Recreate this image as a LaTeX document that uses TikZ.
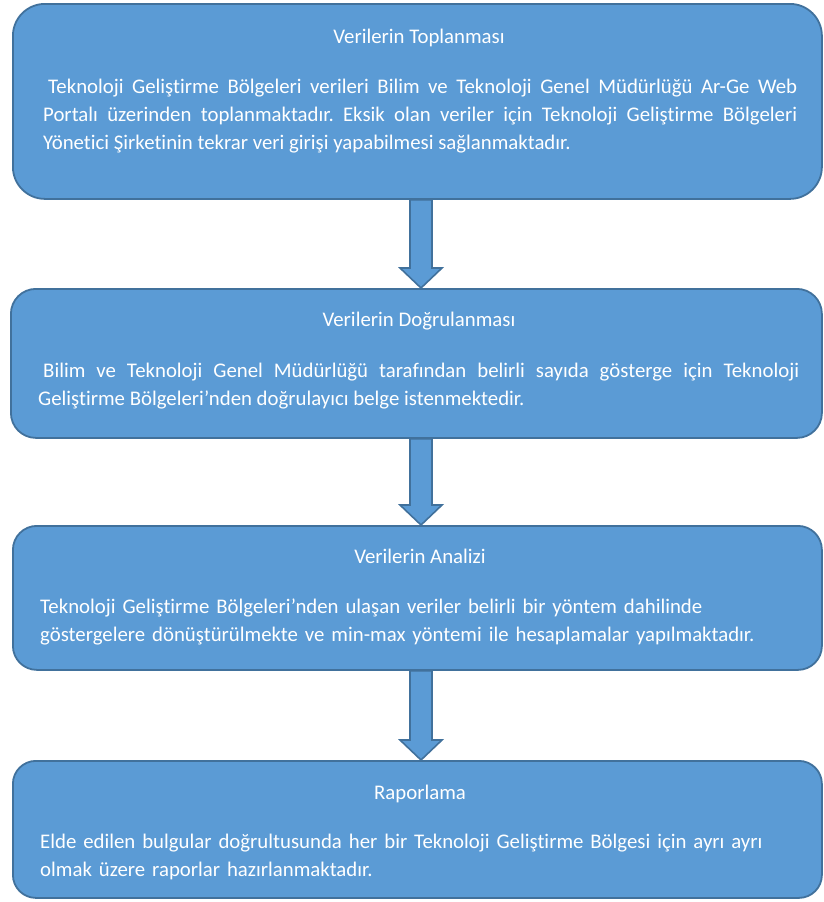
\documentclass[tikz,border=0pt]{standalone}
\usepackage{fontspec}
\setmainfont{Carlito}[Ligatures=NoCommon]
\usetikzlibrary{calc}
\definecolor{boxfill}{HTML}{5B9BD5}
\definecolor{boxline}{HTML}{41719C}
\frenchspacing
\newcommand\flowarrow[2]{%
  \draw[blockarrow] let \p1=(#1.south), \p2=(#2.north) in
    (410pt,\y1) -- (432pt,\y1) -- (432pt,\y2+20pt) -- (442pt,\y2+20pt) --
    (421pt,\y2) -- (400pt,\y2+20pt) -- (410pt,\y2+20pt) -- cycle;}
\begin{document}
\begin{tikzpicture}[x=1pt,y=-1pt,
  stage/.style={draw=boxline, fill=boxfill, line width=1.8pt, inner sep=0pt,
    anchor=north west, minimum width=809pt},
  stitle/.style={text=white, font=\fontsize{20.8}{28}\selectfont\frenchspacing, anchor=base, inner sep=0pt},
  sbody/.style={text=white, font=\fontsize{20.8}{28}\selectfont\frenchspacing, anchor=base west, inner sep=0pt},
  blockarrow/.style={draw=boxline, fill=boxfill, line width=1.6pt, line join=miter}]
\useasboundingbox (0,0) rectangle (823,902);
% boxes
\node[stage, rounded corners=32pt, minimum height=195pt] (b1) at (12,3) {};
\node[stage, rounded corners=25pt, minimum height=149pt, minimum width=811pt] (b2) at (10,288) {};
\node[stage, rounded corners=24pt, minimum height=144pt] (b3) at (12,525) {};
\node[stage, rounded corners=23pt, minimum height=137pt] (b4) at (12,760) {};
% arrows
\flowarrow{b1}{b2}
\flowarrow{b2}{b3}
\flowarrow{b3}{b4}
% texts
\node[stitle] (t1) at (419,43) {Verilerin Toplanması};
\node[sbody, text width=754pt, align=justify] (p1) at (43,93)
  {\hspace*{5pt}Teknoloji Geliştirme Bölgeleri verileri Bilim ve Teknoloji Genel Müdürlüğü Ar-Ge Web\linebreak
   Portalı üzerinden toplanmaktadır. Eksik olan veriler için Teknoloji Geliştirme Bölgeleri\linebreak
   Yönetici Şirketinin tekrar veri girişi yapabilmesi sağlanmaktadır.};
\node[stitle] (t2) at (419,326) {Verilerin Doğrulanması};
\node[sbody, text width=761pt, align=justify] (p2) at (38,377)
  {\hspace*{5pt}Bilim ve Teknoloji Genel Müdürlüğü tarafından belirli sayıda gösterge için Teknoloji\linebreak
   Geliştirme Bölgeleri’nden doğrulayıcı belge istenmektedir.};
\node[stitle] (t3) at (420,563) {Verilerin Analizi};
\node[sbody, text width=775pt, align=left] (p3) at (40,613)
  {Teknoloji Geliştirme Bölgeleri’nden ulaşan veriler belirli bir yöntem dahilinde\\
   göstergelere dönüştürülmekte ve min-max yöntemi ile hesaplamalar yapılmaktadır.};
\node[stitle] (t4) at (420,799) {Raporlama};
\node[sbody, text width=775pt, align=left] (p4) at (40,848)
  {Elde edilen bulgular doğrultusunda her bir Teknoloji Geliştirme Bölgesi için ayrı ayrı\\
   olmak üzere raporlar hazırlanmaktadır.};
\end{tikzpicture}
\end{document}
